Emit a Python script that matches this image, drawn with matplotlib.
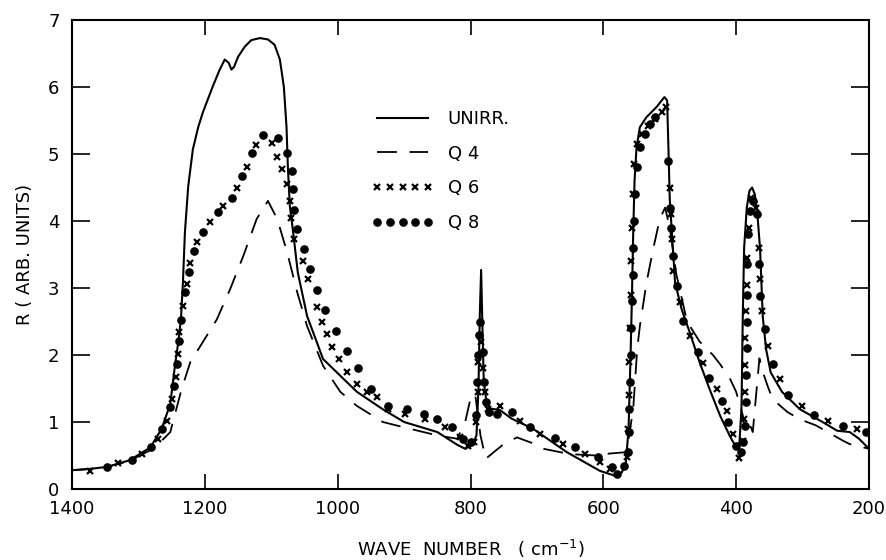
import matplotlib
matplotlib.use("Agg")
import matplotlib.pyplot as plt

# ---------------- data ----------------
unirr_wn = [1400, 1373, 1347, 1313, 1282, 1265, 1252, 1245, 1240, 1236, 1233, 1230, 1225, 1218,
            1210, 1203, 1188, 1178, 1170, 1164, 1160, 1156, 1150, 1140, 1130, 1117, 1105, 1095,
            1087, 1081, 1077, 1075, 1072, 1067, 1060, 1046, 1022, 996, 971, 932, 900, 850, 820,
            808, 797, 791, 788, 786, 784, 782, 780, 776, 770, 756, 738, 706, 655, 605, 580, 572,
            566, 562, 559, 557, 555, 553, 550, 545, 535, 520, 508, 504, 502, 500, 492, 482, 470,
            455, 440, 424, 409, 400, 395, 392, 390, 388, 384, 380, 376, 372, 368, 364, 360, 355,
            348, 331, 304, 270, 248, 229, 215, 200]
unirr_r = [0.28, 0.30, 0.33, 0.43, 0.62, 0.90, 1.27, 1.84, 2.19, 2.53, 3.08, 3.83, 4.52, 5.07,
           5.40, 5.62, 6.01, 6.25, 6.41, 6.36, 6.26, 6.30, 6.45, 6.60, 6.70, 6.73, 6.71, 6.63,
           6.41, 6.00, 5.40, 4.81, 4.22, 3.83, 3.23, 2.58, 1.94, 1.69, 1.45, 1.19, 1.00, 0.85, 0.66,
           0.60, 0.66, 0.80, 1.50, 2.60, 3.27, 2.40, 1.60, 1.30, 1.20, 1.18, 1.05, 0.90, 0.55, 0.27,
           0.19, 0.25, 0.40, 0.90, 2.00, 2.83, 3.83, 4.60, 5.10, 5.40, 5.55, 5.70, 5.85, 5.80, 5.10,
           4.33, 3.08, 2.68, 2.34, 1.89, 1.49, 1.09, 0.78, 0.62, 0.70, 1.20, 2.60, 3.60, 4.20, 4.45,
           4.50, 4.40, 4.10, 3.58, 2.58, 2.09, 1.74, 1.45, 1.19, 1.00, 0.87, 0.85, 0.75, 0.60]

q4_wn = [1400, 1373, 1347, 1313, 1282, 1265, 1252, 1235, 1222, 1207, 1182, 1162, 1142, 1122,
         1105, 1091, 1076, 1061, 1046, 1022, 996, 971, 932, 900, 850, 820, 808, 800, 793, 785,
         777, 765, 750, 730, 700, 690, 650, 610, 590, 565, 555, 549, 545, 535, 525, 515, 507,
         500, 490, 474, 455, 435, 424, 409, 400, 390, 386, 379, 375, 370, 365, 360, 352, 345,
         323, 304, 280, 239, 229, 200]
q4_r = [0.28, 0.30, 0.33, 0.42, 0.58, 0.72, 0.85, 1.49, 1.89, 2.13, 2.53, 2.98, 3.48, 4.03,
        4.30, 4.03, 3.53, 2.94, 2.43, 1.84, 1.45, 1.24, 1.00, 0.92, 0.80, 0.75, 1.00, 1.35, 1.42,
        0.80, 0.45, 0.55, 0.67, 0.77, 0.66, 0.60, 0.52, 0.50, 0.53, 0.55, 1.20, 2.09, 2.43, 3.08,
        3.58, 4.03, 4.20, 3.90, 3.20, 2.50, 2.20, 2.00, 1.86, 1.64, 1.45, 1.10, 0.85, 0.95, 0.85,
        1.40, 1.95, 1.75, 1.52, 1.34, 1.15, 1.04, 0.95, 0.72, 0.67, 0.60]

q6_wn = [1373, 1331, 1295, 1270, 1257, 1250, 1243, 1240, 1239, 1233, 1227, 1222, 1212, 1192,
         1172, 1152, 1137, 1123, 1099, 1092, 1084, 1076, 1072, 1070, 1066, 1052, 1045, 1031,
         1024, 1016, 1009, 998, 986, 971, 956, 941, 924, 899, 869, 839, 816, 804, 795, 791,
         789, 788, 784, 781, 778, 774, 756, 726, 695, 660, 627, 605, 590, 565, 563, 562, 561,
         560, 559, 558, 557, 556, 554, 550, 542, 532, 522, 512, 505, 500, 498, 497, 495, 485,
         470, 450, 429, 414, 405, 396, 390, 388, 387, 386, 386, 385, 384, 383, 381, 377, 370,
         366, 364, 361, 352, 334, 301, 262, 218]
q6_r = [0.27, 0.39, 0.52, 0.75, 1.01, 1.34, 1.67, 2.01, 2.34, 2.73, 3.06, 3.38, 3.68, 3.98,
        4.22, 4.50, 4.81, 5.13, 5.16, 4.96, 4.77, 4.55, 4.30, 4.05, 3.73, 3.40, 3.13, 2.71,
        2.49, 2.31, 2.12, 1.94, 1.74, 1.56, 1.45, 1.37, 1.20, 1.12, 1.04, 0.93, 0.78, 0.64, 0.70,
        1.00, 1.45, 1.90, 2.20, 1.80, 1.45, 1.20, 1.24, 1.01, 0.82, 0.67, 0.52, 0.40, 0.30, 0.48,
        0.90, 1.40, 1.90, 2.40, 2.90, 3.40, 3.90, 4.40, 4.85, 5.15, 5.30, 5.42, 5.52, 5.62, 5.70,
        4.50, 4.10, 3.73, 3.25, 2.79, 2.28, 1.88, 1.49, 1.16, 0.82, 0.46, 0.72, 1.05, 1.45, 1.85,
        2.25, 2.65, 3.05, 3.45, 3.90, 4.35, 4.20, 3.60, 3.13, 2.65, 2.13, 1.64, 1.24, 1.01, 0.90]

q8_wn = [1347, 1310, 1281, 1265, 1252, 1246, 1242, 1239, 1236, 1230, 1224, 1216, 1203, 1180,
         1159, 1144, 1129, 1112, 1090, 1076, 1069, 1067, 1066, 1061, 1051, 1042, 1031, 1019,
         1003, 986, 970, 950, 924, 895, 870, 850, 828, 812, 800, 792, 790, 789, 787, 785, 781,
         779, 776, 772, 760, 738, 710, 673, 643, 608, 587, 580, 569, 563, 562, 561, 560, 559,
         558, 557, 556, 555, 554, 552, 549, 545, 538, 530, 522, 503, 500, 498, 495, 489, 480,
         457, 441, 421, 412, 400, 393, 389, 386, 385, 385, 384, 384, 384, 383, 382, 379, 374,
         369, 366, 364, 357, 345, 322, 283, 239, 205]
q8_r = [0.33, 0.43, 0.63, 0.90, 1.22, 1.54, 1.86, 2.21, 2.52, 2.94, 3.24, 3.55, 3.84, 4.13,
        4.35, 4.67, 5.01, 5.29, 5.24, 5.01, 4.75, 4.48, 4.17, 3.88, 3.58, 3.28, 2.97, 2.67,
        2.36, 2.06, 1.80, 1.50, 1.24, 1.20, 1.12, 1.05, 0.92, 0.75, 0.70, 1.10, 1.60, 2.00, 2.30,
        2.50, 2.05, 1.60, 1.30, 1.15, 1.12, 1.15, 0.92, 0.76, 0.62, 0.48, 0.33, 0.22, 0.34, 0.55,
        0.85, 1.20, 1.60, 2.00, 2.40, 2.80, 3.20, 3.60, 4.00, 4.40, 4.80, 5.10, 5.30, 5.45, 5.55,
        4.90, 4.20, 3.90, 3.48, 3.03, 2.51, 2.04, 1.65, 1.31, 1.00, 0.64, 0.55, 0.70, 0.94, 1.30,
        1.70, 2.10, 2.50, 2.90, 3.36, 3.80, 4.15, 4.30, 4.10, 3.36, 2.88, 2.39, 1.86, 1.40, 1.10,
        0.94, 0.85]

labels = ["UNIRR.", "Q 4", "Q 6", "Q 8"]
xticks = [1400, 1200, 1000, 800, 600, 400, 200]
yticks = [0, 1, 2, 3, 4, 5, 6, 7]

# ---------------- figure ----------------
plt.rcParams['font.family'] = ['DejaVu Sans']
fig = plt.figure(figsize=(8.86, 5.60), dpi=100)
ax = fig.add_axes([72 / 886, 1 - 489 / 560, (869 - 72) / 886, (489 - 20) / 560])

ax.plot(unirr_wn, unirr_r, color='black', lw=1.5, label=labels[0])
ax.plot(q4_wn, q4_r, color='black', lw=1.3, dashes=(11, 7), label=labels[1])
ax.plot(q6_wn, q6_r, ls='none', marker='x', ms=4.5, mew=1.6, color='black', label=labels[2])
ax.plot(q8_wn, q8_r, ls='none', marker='o', ms=5.2, color='black', label=labels[3])

ax.set_xlim(1400, 200)
ax.set_ylim(0, 7)
ax.set_xticks(xticks)
ax.set_yticks(yticks)
ax.tick_params(axis='both', which='major', direction='in', top=True, right=True,
               labelsize=13, width=1.2, color='black')
ax.tick_params(axis='x', length=11, pad=8)
ax.tick_params(axis='y', length=13, pad=9)
for s in ax.spines.values():
    s.set_linewidth(1.5)

ax.set_xlabel("WAVE  NUMBER   ( cm$^{-1}$)", fontsize=13, labelpad=14)
ax.set_ylabel("R ( ARB. UNITS)", fontsize=13, labelpad=10)

leg = ax.legend(loc='upper left', bbox_to_anchor=((372 - 72) / 797, (489 - 110) / 469),
                frameon=False, fontsize=13, numpoints=5, handlelength=3.4,
                handletextpad=0.8, labelspacing=0.92, borderpad=0, borderaxespad=0)

fig.savefig("out.png", dpi=100)
